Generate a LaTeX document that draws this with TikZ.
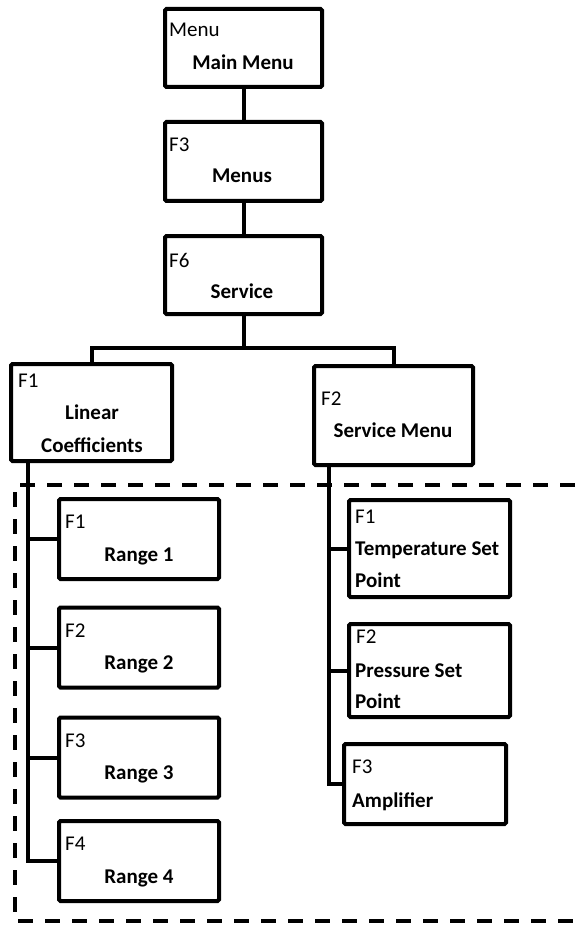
\documentclass[tikz,border=0pt]{standalone}
\usepackage{fontspec}
\setmainfont{Carlito}

\tikzset{
  box/.style={draw,line width=4pt,rounded corners=1.5pt,inner sep=0pt},
  link/.style={line width=4pt},
  frame/.style={line width=3.5pt,dash pattern=on 15pt off 12pt},
  key/.style={anchor=base west,inner sep=0pt,font=\fontsize{21}{25}\selectfont},
  ttl/.style={anchor=base,inner sep=0pt,font=\fontsize{21}{25}\selectfont\bfseries}
}

\begin{document}
\begin{tikzpicture}[x=1pt,y=-1pt]
    \useasboundingbox (0,0) rectangle (575,925);
    \draw[frame] (575,485) -- (15,485) -- (15,921) -- (575,921);
    \node[box,minimum width=157,minimum height=78] (mm) at (243.5,48) {};
    \node[box,minimum width=157,minimum height=79] (mn) at (243.5,161.5) {};
    \node[box,minimum width=157,minimum height=78] (sv) at (243.5,275) {};
    \node[box,minimum width=161,minimum height=97] (lc) at (91.5,412.5) {};
    \node[box,minimum width=159,minimum height=99] (sm) at (393.5,415.5) {};
    \node[box,minimum width=161,minimum height=97] (tp) at (429.5,548.5) {};
    \node[box,minimum width=161,minimum height=93] (ps) at (429.5,670.5) {};
    \node[box,minimum width=162,minimum height=80] (am) at (425,784) {};
    \coordinate (br) at (243.5,348);
    \coordinate (lt) at (28,0);
    \coordinate (rt) at (329,0);
    \node[key] (mmk) at (169,37) {Menu};
    \node[ttl] (mmt) at (243,70) {Main Menu};
    \node[key] (mnk) at (169,152) {F3};
    \node[ttl] (mnt) at (242,183) {Menus};
    \node[key] (svk) at (169,267) {F6};
    \node[ttl] (svt) at (242,298) {Service};
    \node[key] (lck) at (18,387) {F1};
    \node[ttl] (lct) at (92,419) {Linear};
    \node[ttl] (lcu) at (92,452) {Coefficients};
    \node[key] (smk) at (321,405) {F2};
    \node[ttl] (smt) at (393,437) {Service Menu};
    \node[key] (tpk) at (355,523) {F1};
    \node[ttl,anchor=base west] (tpt) at (355,555) {Temperature Set};
    \node[ttl,anchor=base west] (tpu) at (355,587) {Point};
    \node[key] (psk) at (356,643) {F2};
    \node[ttl,anchor=base west] (pst) at (355,677) {Pressure Set};
    \node[ttl,anchor=base west] (psu) at (355,708) {Point};
    \node[key] (amk) at (352,773) {F3};
    \node[ttl,anchor=base west] (amt) at (352,807) {Amplifier};
    \foreach \i/\y in {1/539,2/647.5,3/757.5,4/861}{
      \node[box,minimum width=160,minimum height=80] (r\i) at (139,\y) {};
      \node[key] (r\i k) at (65,\y-10.5) {F\i};
      \node[ttl] (r\i t) at (139,\y+22) {Range \i};
    }
    \draw[link] (mm.south) -- (mn.north);
    \draw[link] (mn.south) -- (sv.north);
    \draw[link] (sv.south) -- (br);
    \draw[link] (lc.north) |- (br) -| (sm.north);
    \draw[link] (lc.south -| lt) |- (r4.west);
    \foreach \i in {1,2,3}
      \draw[link] (r\i.west) -- (r\i.west -| lt);
    \draw[link] (sm.south -| rt) |- (am.west);
    \draw[link] (tp.west) -- (tp.west -| rt);
    \draw[link] (ps.west) -- (ps.west -| rt);
\end{tikzpicture}
\end{document}
